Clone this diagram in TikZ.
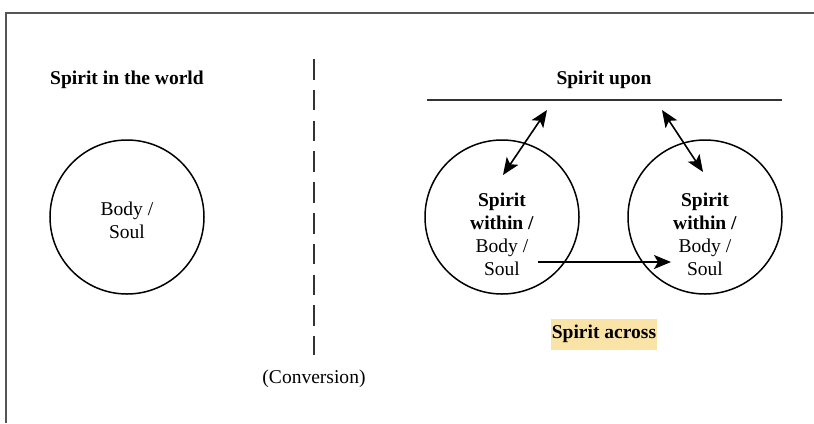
\documentclass[tikz,border=0pt]{standalone}
\usepackage{fontspec}
\setmainfont{Liberation Serif}
\usetikzlibrary{arrows.meta}
\definecolor{frame}{HTML}{555555}
\definecolor{hl}{HTML}{F9E3A6}
\begin{document}
\begin{tikzpicture}[x=1bp,y=-1bp,
  txt/.style={font=\fontsize{19.6}{23}\selectfont, align=center, inner sep=0pt},
  btxt/.style={txt, font=\fontsize{19.6}{23}\selectfont\bfseries},
  circ/.style={draw, circle, line width=1.5bp, minimum size=154bp, inner sep=0pt},
  arr/.style={line width=1.6bp, -{Stealth[length=17bp,width=14bp,inset=4bp]}},
  darr/.style={line width=1.6bp, {Stealth[length=17bp,width=14bp,inset=4bp]}-{Stealth[length=17bp,width=14bp,inset=4bp]}}
]
\useasboundingbox (0,0) rectangle (814,423);
% frame
\draw[frame, line width=1.3bp] (6,423) -- (6,13) -- (814,13);

% left part
\node[btxt] (world) at (127,80) {Spirit in the world};
\node[circ] (c1) at (127,217) {};
\node[txt] (t1) at (127,220) {Body /\\Soul};

% divider
\coordinate (dtop) at (314,59);
\coordinate (dbot) at (314,355);
\draw[black!80, line width=1.7bp, dash pattern=on 20.5bp off 10.3bp] (dtop) -- (dbot);
\node[txt] (conv) at (314,379) {(Conversion)};

% right part
\node[btxt] (upon) at (604,80) {Spirit upon};
\coordinate (ul) at (427,100);
\coordinate (ur) at (782,100);
\draw[black!80, line width=1.6bp] (ul) -- (ur);

\node[circ] (c2) at (502,217) {};
\node[circ] (c3) at (705,217) {};
\node[txt] (t2) at (502,234) {\textbf{Spirit}\\\textbf{within /}\\Body /\\Soul};
\node[txt] (t3) at (705,234) {\textbf{Spirit}\\\textbf{within /}\\Body /\\Soul};

\coordinate (a1u) at (547,110);
\coordinate (a1d) at (503,175);
\coordinate (a2u) at (662,110);
\coordinate (a2d) at (703,172);
\draw[darr] (a1u) -- (a1d);
\draw[darr] (a2u) -- (a2d);

\coordinate (h1) at (538,262);
\coordinate (h2) at (671,262);
\draw[arr] (h1) -- (h2);

\node[btxt, fill=hl, minimum width=106bp, minimum height=31bp] (across) at (604,334) {Spirit across};
\end{tikzpicture}
\end{document}
